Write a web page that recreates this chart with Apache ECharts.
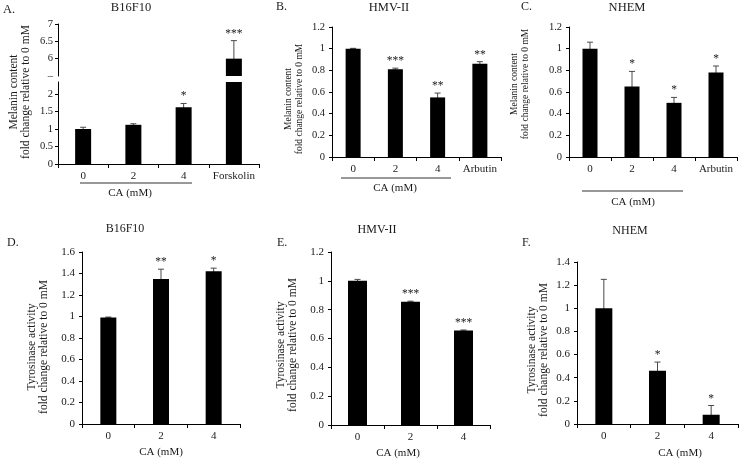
<!DOCTYPE html>
<html><head><meta charset="utf-8">
<script src="https://cdn.jsdelivr.net/npm/echarts@6/dist/echarts.min.js"></script>
<style>html,body{margin:0;padding:0;background:#fff}#c{width:740px;height:461px}</style>
</head><body><div id="c"></div>
<script>
// ---- data ----
const catsMelB16 = ['0', '2', '4', 'Forskolin'];
const melB16 = [1.0, 1.12, 1.62, 6.0];
const melB16Err = [0.05, 0.03, 0.11, 0.52];
const melB16Sig = ['', '', '*', '***'];

const catsMel = ['0', '2', '4', 'Arbutin'];
const melHMV = [1.0, 0.81, 0.55, 0.86];
const melHMVErr = [0.003, 0.01, 0.04, 0.02];
const melHMVSig = ['', '***', '**', '**'];

const melNHEM = [1.0, 0.65, 0.50, 0.78];
const melNHEMErr = [0.06, 0.14, 0.05, 0.06];
const melNHEMSig = ['', '*', '*', '*'];

const catsCA = ['0', '2', '4'];
const tyrB16 = [0.99, 1.35, 1.42];
const tyrB16Err = [0.005, 0.09, 0.03];
const tyrB16Sig = ['', '**', '*'];

const tyrHMV = [1.0, 0.855, 0.655];
const tyrHMVErr = [0.01, 0.004, 0.004];
const tyrHMVSig = ['', '***', '***'];

const tyrNHEM = [1.0, 0.46, 0.08];
const tyrNHEMErr = [0.25, 0.075, 0.08];
const tyrNHEMSig = ['', '*', '*'];

const ticksB16Low = [0, 0.5, 1, 1.5, 2];
const ticksB16High = [5.5, 6, 6.5, 7];

// ---- build ----
const FONT = '"Liberation Serif", "Times New Roman", serif';
const TXT = '#1a1a1a';
const grids = [], xAxes = [], yAxes = [], series = [];

function addPanel(g, cats, vals, errs, sigs, y, o) {
  const gi = grids.length;
  grids.push({left: g[0], top: g[1], width: g[2], height: g[3]});
  xAxes.push({
    type: 'category', gridIndex: gi, data: cats, show: !o.hideX,
    axisLine: {show: true, lineStyle: {color: '#000', width: 1}},
    axisTick: {show: true, length: 4, lineStyle: {color: '#000'}},
    axisLabel: {color: TXT, fontFamily: FONT, fontSize: 11, margin: o.xm || 7, interval: 0}
  });
  const ya = {
    type: 'value', gridIndex: gi, min: y.min, max: y.max,
    splitLine: {show: false},
    axisLine: {show: true, lineStyle: {color: '#000', width: 1}},
    axisTick: {show: true, length: 3, lineStyle: {color: '#000'}},
    axisLabel: {color: TXT, fontFamily: FONT, fontSize: o.yfs || 11, margin: o.ym || 7,
      formatter: y.fmt || (v => String(+v.toFixed(2)))}
  };
  if (y.interval) ya.interval = y.interval;
  if (y.labels) { ya.axisLabel.customValues = y.labels; }
  if (y.ticks) { ya.axisTick.customValues = y.ticks; }
  yAxes.push(ya);
  series.push({
    type: 'bar', xAxisIndex: gi, yAxisIndex: gi, data: vals, barWidth: o.bw,
    itemStyle: {color: '#000'}, clip: true, silent: true, animation: false
  });
  const lo = y.min, hi = y.max;
  series.push({
    type: 'custom', xAxisIndex: gi, yAxisIndex: gi, clip: true, silent: true, animation: false,
    data: vals.map((v, i) => [i, v, errs[i]]),
    renderItem(params, api) {
      const x = api.value(0), v = api.value(1), e = api.value(2);
      const t = api.coord([x, v + e]), b = api.coord([x, v - e]);
      const c = 3, st = {stroke: '#4a4a4a', lineWidth: 1};
      return {type: 'group', children: [
        {type: 'line', shape: {x1: t[0], y1: t[1], x2: b[0], y2: b[1]}, style: st},
        {type: 'line', shape: {x1: t[0] - c, y1: t[1], x2: t[0] + c, y2: t[1]}, style: st},
        {type: 'line', shape: {x1: b[0] - c, y1: b[1], x2: b[0] + c, y2: b[1]}, style: st}
      ]};
    }
  });
  series.push({
    type: 'custom', xAxisIndex: gi, yAxisIndex: gi, clip: false, silent: true, animation: false,
    data: vals.map((v, i) => [i, v, errs[i]]),
    renderItem(params, api) {
      const i = params.dataIndex;
      const x = api.value(0), v = api.value(1), e = api.value(2);
      const s = sigs[i];
      if (!s || v + e < lo || v + e > hi) return null;
      const t = api.coord([x, v + e]);
      return {type: 'text', x: t[0], y: t[1] - 1,
        style: {text: s, font: '11.5px ' + FONT, fill: TXT, align: 'center', verticalAlign: 'bottom'}};
    }
  });
}

// A: broken axis, two grids
addPanel([58, 82, 201, 82], catsMelB16, melB16, melB16Err, melB16Sig,
  {min: 0, max: 2.343, labels: ticksB16Low, ticks: ticksB16Low}, {bw: 16, yfs: 10.5, ym: 5, xm: 7});
addPanel([58, 24, 201, 52], catsMelB16, melB16, melB16Err, melB16Sig,
  {min: 5.5, max: 7, labels: ticksB16High, ticks: ticksB16High.slice(1),
   fmt: v => (Math.abs(v - 5.5) < 1e-6 ? '\u2013' : String(v))}, {bw: 16, yfs: 10.5, ym: 5, hideX: true});
// B
addPanel([332, 27, 169, 130], catsMel, melHMV, melHMVErr, melHMVSig,
  {min: 0, max: 1.2, interval: 0.2}, {bw: 15, yfs: 10.5, xm: 7});
// C
addPanel([569, 27, 168, 130], catsMel, melNHEM, melNHEMErr, melNHEMSig,
  {min: 0, max: 1.2, interval: 0.2}, {bw: 15, yfs: 10.5, xm: 7});
// D
addPanel([82, 252, 158, 172], catsCA, tyrB16, tyrB16Err, tyrB16Sig,
  {min: 0, max: 1.6, interval: 0.2}, {bw: 16, yfs: 11, xm: 7});
// E
addPanel([331, 252, 159, 173], catsCA, tyrHMV, tyrHMVErr, tyrHMVSig,
  {min: 0, max: 1.2, interval: 0.2}, {bw: 19, yfs: 11, xm: 7});
// F
addPanel([577, 262, 161, 162], catsCA, tyrNHEM, tyrNHEMErr, tyrNHEMSig,
  {min: 0, max: 1.4, interval: 0.2}, {bw: 17, yfs: 11, xm: 7});

function txt(x, y, s, size, align, rot) {
  const el = {type: 'text', x: x, y: y, silent: true,
    style: {text: s, font: size + 'px ' + FONT, fill: TXT, align: align || 'center',
      verticalAlign: 'middle', lineHeight: size + 1}};
  if (rot) el.rotation = rot;
  return el;
}
function hline(x1, x2, y) {
  return {type: 'line', silent: true, shape: {x1: x1, y1: y, x2: x2, y2: y},
    style: {stroke: '#333', lineWidth: 1}};
}
const R = Math.PI / 2;
const graphics = [
  txt(131, 8, 'B16F10', 12.5), txt(389, 8, 'HMV-II', 12.5), txt(627, 8, 'NHEM', 12.5),
  txt(125, 229, 'B16F10', 12), txt(377, 230, 'HMV-II', 12), txt(630, 231, 'NHEM', 12),
  txt(3, 10, 'A.', 12.5, 'left'), txt(276, 7, 'B.', 12, 'left'), txt(521, 7, 'C.', 12, 'left'),
  txt(7, 243, 'D.', 12, 'left'), txt(277, 243, 'E.', 12, 'left'), txt(522, 243, 'F.', 12, 'left'),
  txt(20, 92, 'Melanin content\nfold change relative to 0 mM', 11.5, 'center', R),
  txt(294, 99, 'Melanin content\nfold change relative to 0 mM', 9.5, 'center', R),
  txt(520, 84, 'Melanin content\nfold change relative to 0 mM', 9.5, 'center', R),
  txt(38, 347, 'Tyrosinase activity\nfold change relative to 0 mM', 11.5, 'center', R),
  txt(287, 345, 'Tyrosinase activity\nfold change relative to 0 mM', 11.5, 'center', R),
  txt(538, 350, 'Tyrosinase activity\nfold change relative to 0 mM', 11.5, 'center', R),
  hline(80, 192, 183), txt(130, 193, 'CA (mM)', 11),
  hline(341, 451, 178), txt(395, 188, 'CA (mM)', 11),
  hline(582, 683, 191), txt(633, 202, 'CA (mM)', 11),
  txt(161, 452, 'CA (mM)', 11), txt(398, 453, 'CA (mM)', 11), txt(680, 453, 'CA (mM)', 11)
];

const chart = echarts.init(document.getElementById('c'), null, {renderer: 'canvas'});
chart.setOption({
  animation: false,
  backgroundColor: '#fff',
  grid: grids, xAxis: xAxes, yAxis: yAxes, series: series,
  graphic: graphics
});
</script></body></html>
